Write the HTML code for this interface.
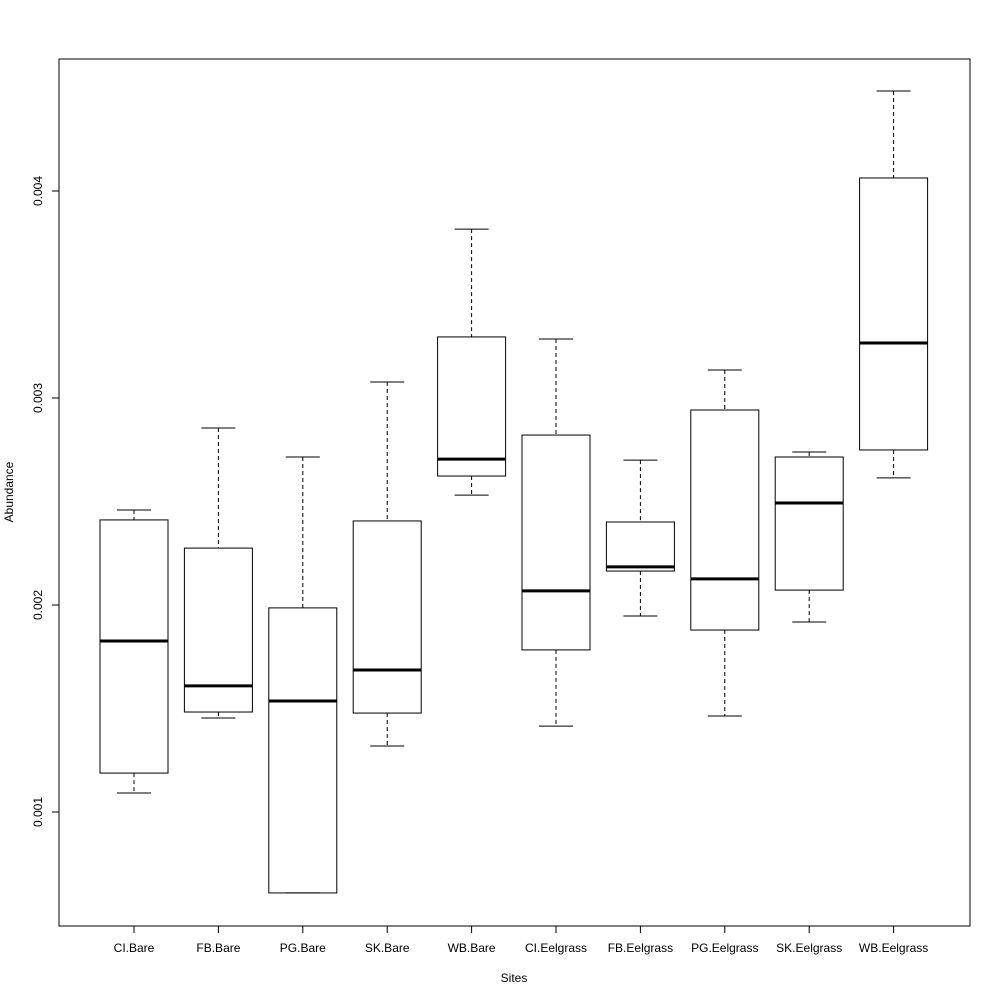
<!DOCTYPE html>
<html><head><meta charset="utf-8"><style>
body{margin:0;background:#fff}
svg{display:block;font-family:"Liberation Sans",Arial,sans-serif}
</style></head><body>
<svg id="chart" width="1000" height="1000" viewBox="0 0 1000 1000">
<rect x="0" y="0" width="1000" height="1000" fill="#fff"/>
<rect x="59" y="59" width="911" height="867" fill="none" stroke="#000" stroke-width="1"/>
<g id="marks"></g>
<g id="axes"></g>
<text x="514" y="982" font-size="12" text-anchor="middle">Sites</text>
<text x="13" y="492" font-size="12" text-anchor="middle" transform="rotate(-90 13 492)">Abundance</text>
</svg>
<script>
const categories=["CI.Bare","FB.Bare","PG.Bare","SK.Bare","WB.Bare","CI.Eelgrass","FB.Eelgrass","PG.Eelgrass","SK.Eelgrass","WB.Eelgrass"];
const whiskerLow=[0.001092,0.001454,0.000609,0.001319,0.002531,0.001415,0.001947,0.001464,0.001918,0.002614];
const q1=[0.001188,0.001483,0.000609,0.001478,0.002623,0.001783,0.002164,0.001879,0.002072,0.002749];
const median=[0.001826,0.001609,0.001536,0.001686,0.002705,0.002068,0.002184,0.002126,0.002493,0.003266];
const q3=[0.002411,0.002275,0.001986,0.002406,0.003295,0.002821,0.002401,0.002942,0.002715,0.004063];
const whiskerHigh=[0.002459,0.002855,0.002715,0.003077,0.003816,0.003285,0.0027,0.003135,0.002739,0.004483];
const yTicks=[0.001,0.002,0.003,0.004];
const yTickLabels=["0.001","0.002","0.003","0.004"];

const NS="http://www.w3.org/2000/svg";
function y(v){return 812-(v-0.001)*207000;}
function x(i){return 134+i*84.4;}
function mk(tag,attrs,parent){const e=document.createElementNS(NS,tag);for(const k in attrs)e.setAttribute(k,attrs[k]);parent.appendChild(e);return e;}
const marks=document.getElementById('marks'),axes=document.getElementById('axes');
const bw=68;
categories.forEach((c,i)=>{
  const cx=x(i);
  const g=mk('g',{},marks);
  
  
  mk('line',{x1:cx,x2:cx,y1:y(whiskerHigh[i]),y2:y(q3[i]),stroke:'#000','stroke-dasharray':'4,3'},g);
  mk('line',{x1:cx,x2:cx,y1:y(q1[i]),y2:y(whiskerLow[i]),stroke:'#000','stroke-dasharray':'4,3'},g);
  mk('line',{x1:cx-17,x2:cx+17,y1:y(whiskerHigh[i]),y2:y(whiskerHigh[i]),stroke:'#000'},g);
  mk('line',{x1:cx-17,x2:cx+17,y1:y(whiskerLow[i]),y2:y(whiskerLow[i]),stroke:'#000'},g);
  mk('rect',{x:cx-bw/2,y:y(q3[i]),width:bw,height:y(q1[i])-y(q3[i]),fill:'none',stroke:'#000'},g);
  mk('line',{x1:cx-bw/2,x2:cx+bw/2,y1:y(median[i]),y2:y(median[i]),stroke:'#000','stroke-width':3},g);
  const t=mk('line',{x1:cx,x2:cx,y1:926,y2:933,stroke:'#000'},axes);
  
  
  const l=mk('text',{x:cx,y:952,'font-size':12,'text-anchor':'middle'},axes);
  l.textContent=c;
  
  
});
yTicks.forEach((v,i)=>{
  const t=mk('line',{x1:52,x2:59,y1:y(v),y2:y(v),stroke:'#000'},axes);
  
  
  const l=mk('text',{x:42,y:y(v),'font-size':12,'text-anchor':'middle',transform:'rotate(-90 42 '+y(v)+')'},axes);
  l.textContent=yTickLabels[i];
  
  
});
</script>
</body></html>
